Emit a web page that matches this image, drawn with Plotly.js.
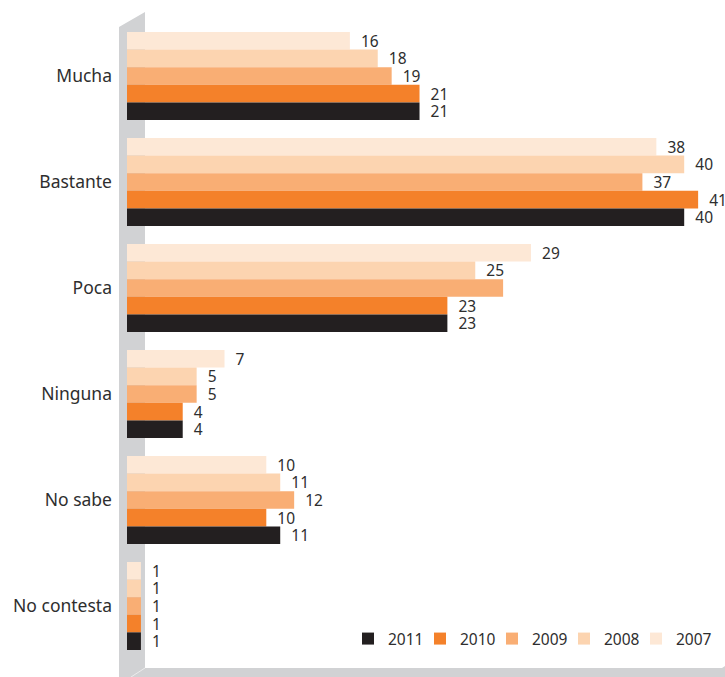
<!DOCTYPE html>
<html>
<head>
<meta charset="utf-8">
<script src="https://cdn.plot.ly/plotly-3.0.1.min.js"></script>
<style>html,body{margin:0;padding:0;background:#fff;}#chart{width:725px;height:677px;}</style>
</head>
<body>
<div id="chart"></div>
<script>
// ---- data ----
var categories = ['Mucha', 'Bastante', 'Poca', 'Ninguna', 'No sabe', 'No contesta'];
var years = ['2007', '2008', '2009', '2010', '2011'];
var v2007 = [16, 38, 29, 7, 10, 1];
var v2008 = [18, 40, 25, 5, 11, 1];
var v2009 = [19, 37, 27, 5, 12, 1];
var v2010 = [21, 41, 23, 4, 10, 1];
var v2011 = [21, 40, 23, 4, 11, 1];
// labels as printed in the source (Poca 2009 has no printed label)
var show2007 = [true, true, true, true, true, true];
var show2008 = [true, true, true, true, true, true];
var show2009 = [true, true, false, true, true, true];
var show2010 = [true, true, true, true, true, true];
var show2011 = [true, true, true, true, true, true];

var colors = ['#fde8d6', '#fcd4b0', '#f9ae74', '#f4812a', '#231f20'];
var seriesVals = [v2007, v2008, v2009, v2010, v2011];
var seriesShow = [show2007, show2008, show2009, show2010, show2011];

var FONT = 'Noto Sans, Open Sans, sans-serif';
var TXT = '#2e2e2e';

// legend slots left-to-right: 2011, 2010, 2009, 2008, 2007
function legendId(slot) { return slot === 0 ? 'legend' : 'legend' + (slot + 1); }

var traces = years.map(function (yr, i) {
  var slot = years.length - 1 - i;
  return {
    type: 'bar',
    orientation: 'h',
    name: yr,
    legend: legendId(slot),
    y: categories,
    x: seriesVals[i],
    marker: { color: colors[i], line: { width: 0 } },
    text: seriesVals[i].map(function (v, j) { return seriesShow[i][j] ? '\u00a0\u00a0' + v : ''; }),
    textposition: 'outside',
    constraintext: 'none',
    cliponaxis: false,
    textfont: { family: FONT, size: 15.5, color: TXT },
    hoverinfo: 'skip'
  };
});

// plot-area geometry (pixels) for decorative wall/floor
var L = 127, R = 14, T = 23, B = 18, WIDTH = 725, HEIGHT = 677;
var PW = WIDTH - L - R, PH = HEIGHT - T - B;
function px(x) { return (x - L) / PW; }
function py(y) { return (HEIGHT - B - y) / PH; }

var wallPath = 'M' + px(119) + ',' + py(677) +
  ' L' + px(119) + ',' + py(27) +
  ' L' + px(145) + ',' + py(12) +
  ' L' + px(145) + ',' + py(668) +
  ' L' + px(722) + ',' + py(668) +
  ' L' + px(725) + ',' + py(666) +
  ' L' + px(725) + ',' + py(677) + ' Z';

var layout = {
  width: WIDTH,
  height: HEIGHT,
  margin: { l: L, r: R, t: T, b: B, pad: 0, autoexpand: false },
  paper_bgcolor: '#ffffff',
  plot_bgcolor: 'rgba(0,0,0,0)',
  barmode: 'group',
  bargap: 0.17,
  bargroupgap: 0,
  showlegend: true,
  font: { family: FONT, color: TXT },
  xaxis: {
    range: [0, PW / 13.93],
    showgrid: false, zeroline: false, showline: false,
    showticklabels: false, ticks: '', fixedrange: true
  },
  yaxis: {
    type: 'category',
    autorange: 'reversed',
    showgrid: false, zeroline: false, showline: false,
    ticks: '',
    ticklabelstandoff: 14,
    tickfont: { family: FONT, size: 17.5, color: TXT },
    fixedrange: true
  },
  shapes: [
    {
      type: 'path', xref: 'paper', yref: 'paper', layer: 'below',
      path: wallPath, fillcolor: '#d1d2d4', line: { width: 0 }
    },
    {
      type: 'line', xref: 'paper', yref: 'paper', layer: 'below',
      x0: px(145), y0: py(668), x1: px(131), y1: py(677),
      line: { color: '#ececec', width: 1 }
    }
  ]
};

var LEG_X = 348, LEG_STEP = 72, LEG_Y = 639;
for (var s = 0; s < years.length; s++) {
  layout[legendId(s)] = {
    orientation: 'h',
    xref: 'container', yref: 'container',
    x: (LEG_X + s * LEG_STEP) / WIDTH, xanchor: 'left',
    y: 1 - LEG_Y / HEIGHT, yanchor: 'middle',
    font: { family: FONT, size: 15.5, color: TXT },
    bgcolor: 'rgba(0,0,0,0)',
    itemclick: false, itemdoubleclick: false
  };
}

Plotly.newPlot('chart', traces, layout, { displayModeBar: false, staticPlot: true });
</script>
</body>
</html>
